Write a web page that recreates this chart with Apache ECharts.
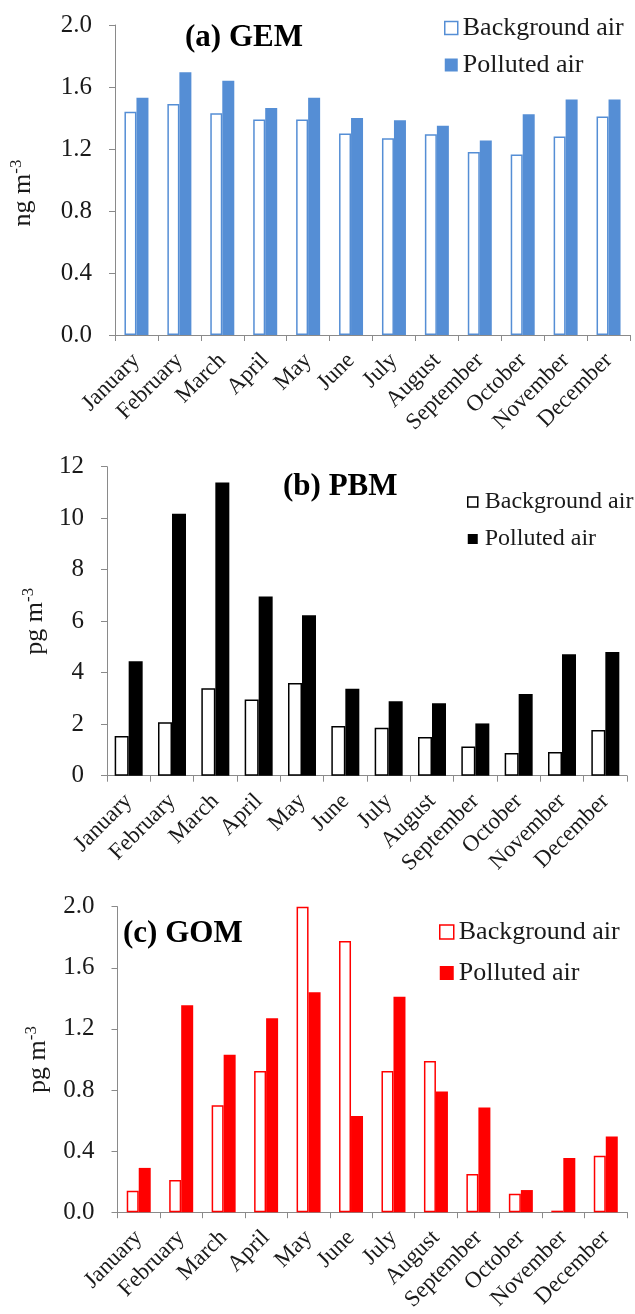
<!DOCTYPE html>
<html>
<head>
<meta charset="utf-8">
<script src="https://cdn.jsdelivr.net/npm/echarts@6/dist/echarts.min.js"></script>
<style>
html,body{margin:0;padding:0;background:#fff;}
#chart{width:635px;height:1314px;}
</style>
</head>
<body>
<div id="chart"></div>
<script>
const months = ['January','February','March','April','May','June','July','August','September','October','November','December'];
const gemBackground = [1.44,1.49,1.43,1.39,1.39,1.30,1.27,1.295,1.18,1.165,1.28,1.41];
const gemPolluted   = [1.53,1.695,1.64,1.465,1.53,1.40,1.385,1.35,1.255,1.425,1.52,1.52];
const pbmBackground = [1.54,2.08,3.40,2.96,3.60,1.93,1.86,1.50,1.13,0.88,0.92,1.77];
const pbmPolluted   = [4.44,10.17,11.39,6.96,6.23,3.38,2.89,2.81,2.03,3.17,4.72,4.80];
const gomBackground = [0.14,0.21,0.70,0.925,2.0,1.775,0.925,0.99,0.25,0.12,0.01,0.37];
const gomPolluted   = [0.29,1.355,1.03,1.27,1.44,0.63,1.41,0.79,0.685,0.145,0.355,0.495];
const panelTitles = ['(a) GEM','(b) PBM','(c) GOM'];
const yNames = ['ng m','pg m','pg m'];
const legendLabels = ['Background air','Polluted air'];

const FONT = "'Liberation Serif','Times New Roman',serif";
const TXT = '#1a1a1a';
const AX = '#8a8a8a';

const panels = [
  {grid:{left:112,right:5,top:25,height:310}, color:'#558ED5', min:0,max:2,interval:0.4,dec:1, bw:12,
   nameGap:79, namePad:[0,26,0,0], title:{left:185,top:22}, legend:{left:444,top:15,icon:13,font:26,gap:11},
   bg:gemBackground, pol:gemPolluted},
  {grid:{left:107,right:8,top:466.7,height:309}, color:'#000000', min:0,max:12,interval:2,dec:0, bw:14,
   nameGap:55, namePad:[0,0,0,0], title:{left:283,top:471.5}, legend:{left:467,top:490,icon:10,font:24,gap:13,pad:2},
   bg:pbmBackground, pol:pbmPolluted},
  {grid:{left:117.5,right:8,top:906.7,height:310}, color:'#FF0000', min:0,max:2,interval:0.4,dec:1, bw:12,
   nameGap:66, namePad:[0,0,0,0], title:{left:123,top:918.5}, legend:{left:439,top:919,icon:14,font:26,gap:15},
   bg:gomBackground, pol:gomPolluted}
];

const option = {
  animation:false,
  backgroundColor:'#fff',
  title:[], legend:[], grid:[], xAxis:[], yAxis:[], series:[]
};
const nameMap = {};
panels.forEach((p,i)=>{
  option.grid.push(p.grid);
  option.title.push({text:panelTitles[i], left:p.title.left, top:p.title.top, padding:0,
    textStyle:{fontFamily:FONT,fontWeight:'bold',fontSize:31,color:'#000',lineHeight:31}});
  const bgName = 'bg'+i, polName = 'pol'+i;
  nameMap[bgName]=legendLabels[0]; nameMap[polName]=legendLabels[1];
  option.legend.push({
    orient:'vertical', left:p.legend.left, top:p.legend.top, padding:0,
    itemWidth:p.legend.icon, itemHeight:p.legend.icon, itemGap:p.legend.gap,
    icon:'rect', selectedMode:false,
    formatter:(n)=>nameMap[n],
    textStyle:{fontFamily:FONT,fontSize:p.legend.font,lineHeight:p.legend.font,color:TXT,
      padding:[0,0,0,p.legend.pad||0]},
    data:[
      {name:bgName, itemStyle:{color:'#fff',borderColor:p.color,borderWidth:1.5}},
      {name:polName, itemStyle:{color:p.color,borderWidth:0}}
    ]
  });
  option.xAxis.push({
    type:'category', gridIndex:i, data:months, boundaryGap:true,
    axisLine:{lineStyle:{color:AX,width:1}},
    axisTick:{show:true,length:6,lineStyle:{color:AX}},
    axisLabel:{interval:0,rotate:45,fontFamily:FONT,fontSize:23,color:TXT,margin:22},
    splitLine:{show:false}
  });
  option.yAxis.push({
    type:'value', gridIndex:i, min:p.min, max:p.max, interval:p.interval,
    name:'{a|'+yNames[i]+'}{b|-3}', nameLocation:'middle', nameGap:p.nameGap, nameRotate:90,
    nameTextStyle:{padding:p.namePad, rich:{
      a:{fontFamily:FONT,fontSize:26,color:TXT,lineHeight:28,verticalAlign:'bottom'},
      b:{fontFamily:FONT,fontSize:17,color:TXT,lineHeight:28,verticalAlign:'top'}
    }},
    axisLine:{show:true,lineStyle:{color:AX,width:1}},
    axisTick:{show:true,length:6,lineStyle:{color:AX}},
    axisLabel:{fontFamily:FONT,fontSize:25,color:TXT,margin:23,
      formatter:(v)=>v.toFixed(p.dec)},
    splitLine:{show:false}
  });
  option.series.push({
    name:bgName, type:'bar', xAxisIndex:i, yAxisIndex:i, data:p.bg,
    barWidth:p.bw, barGap:'0%',
    itemStyle:{color:'#fff',borderColor:p.color,borderWidth:1.5}
  });
  option.series.push({
    name:polName, type:'bar', xAxisIndex:i, yAxisIndex:i, data:p.pol,
    barWidth:p.bw, barGap:'0%',
    itemStyle:{color:p.color}
  });
});

const chart = echarts.init(document.getElementById('chart'), null, {renderer:'canvas'});
chart.setOption(option);
</script>
</body>
</html>
